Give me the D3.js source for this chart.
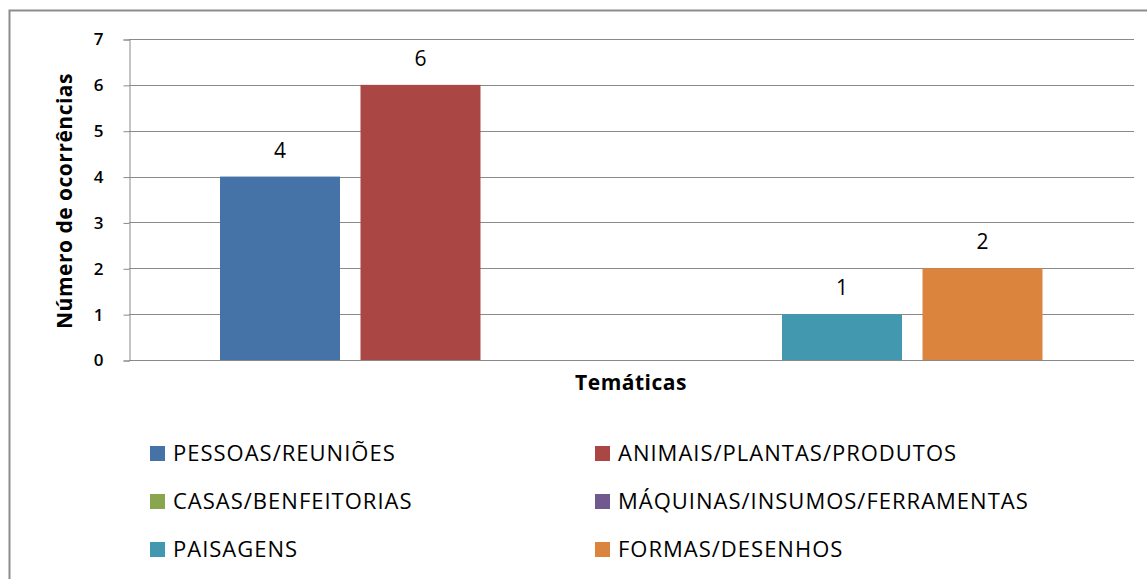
<!DOCTYPE html>
<html>
<head>
<meta charset="utf-8">
<script src="https://cdn.jsdelivr.net/npm/d3@7"></script>
<style>
  body { margin: 0; background: #fff; }
  svg { display: block; font-family: "Open Sans", Lato, sans-serif; }
</style>
</head>
<body>
<div id="chart"></div>
<script>
var width = 1147,
	height = 579;

// data
var category = 'Temáticas';
var series = ['PESSOAS/REUNIÕES', 'ANIMAIS/PLANTAS/PRODUTOS', 'CASAS/BENFEITORIAS',
	'MÁQUINAS/INSUMOS/FERRAMENTAS', 'PAISAGENS', 'FORMAS/DESENHOS'];
var values = [4, 6, 0, 0, 1, 2];
var colors = ['#4572a7', '#aa4643', '#89a54e', '#71588f', '#4198af', '#db843d'];
var yTicks = [0, 1, 2, 3, 4, 5, 6, 7];

var plot = { left: 129, right: 1134, top: 39, bottom: 360 };

var svg = d3.select('#chart').append('svg')
	.attr('width', width)
	.attr('height', height);

// outer frame (only top and left visible in the crop)
svg.append('path')
	.attr('d', 'M9.5,' + height + 'V10.5H' + width)
	.attr('fill', 'none')
	.attr('stroke', '#8c8c8c')
	.attr('stroke-width', 2);

var y = d3.scaleLinear()
	.domain([0, 7])
	.range([plot.bottom, plot.top]);

var x0 = d3.scaleBand()
	.domain([category])
	.range([plot.left, plot.right]);

// series inside the single category, ~91px gap on each side
var x1 = d3.scaleBand()
	.domain(series)
	.range([x0(category) + 91, x0(category) + x0.bandwidth() - 91.5])
	.paddingInner(0.146)
	.paddingOuter(0);

// grid lines
svg.append('g')
	.selectAll('line')
	.data(yTicks)
	.enter()
	.append('line')
	.attr('x1', plot.left)
	.attr('x2', plot.right)
	.attr('y1', d => Math.round(y(d)) + 0.5)
	.attr('y2', d => Math.round(y(d)) + 0.5)
	.attr('stroke', '#8a8a8a')
	.attr('stroke-width', 1);

// y axis
var yAxis = svg.append('g')
	.attr('transform', 'translate(' + (plot.left + 0.5) + ',0.5)')
	.call(d3.axisLeft(y).tickValues(yTicks).tickSize(6).tickPadding(20).tickFormat(d3.format('d')));

yAxis.select('.domain').attr('stroke', '#8a8a8a');
yAxis.selectAll('.tick line').attr('stroke', '#8a8a8a');
yAxis.selectAll('.tick text')
	.attr('fill', '#000')
	.style('font-family', '"Open Sans", sans-serif')
	.style('font-size', '17px')
	.style('font-weight', '600');

// bars
svg.append('g')
	.selectAll('rect')
	.data(series)
	.enter()
	.append('rect')
	.attr('x', d => x1(d))
	.attr('width', x1.bandwidth())
	.attr('y', (d, i) => y(values[i]))
	.attr('height', (d, i) => y(0) - y(values[i]))
	.attr('fill', (d, i) => colors[i]);

// data labels
svg.append('g')
	.selectAll('text')
	.data(series.filter((d, i) => values[i] > 0))
	.enter()
	.append('text')
	.attr('x', d => x1(d) + x1.bandwidth() / 2)
	.attr('y', d => y(values[series.indexOf(d)]) - 19)
	.attr('text-anchor', 'middle')
	.style('font-size', '21px')
	.text(d => values[series.indexOf(d)]);

// axis titles
svg.append('text')
	.attr('x', 631)
	.attr('y', 390)
	.attr('text-anchor', 'middle')
	.style('font-size', '21px')
	.style('font-weight', 'bold')
	.style('letter-spacing', '0.5px')
	.text(category);

svg.append('text')
	.attr('transform', 'translate(72,201) rotate(-90)')
	.attr('text-anchor', 'middle')
	.style('font-size', '21px')
	.style('font-weight', 'bold')
	.style('letter-spacing', '0.5px')
	.text('Número de ocorrências');

// legend, two columns
var legend = svg.append('g')
	.selectAll('g')
	.data(series)
	.enter()
	.append('g')
	.attr('transform', (d, i) => 'translate(' + (i % 2 ? 595 : 150) + ',' + (446 + Math.floor(i / 2) * 48) + ')');

legend.append('rect')
	.attr('width', 15)
	.attr('height', 15)
	.attr('fill', (d, i) => colors[i]);

legend.append('text')
	.attr('x', 23)
	.attr('y', 15)
	.style('font-size', '22px')
	.style('letter-spacing', '1px')
	.text(d => d);
</script>
</body>
</html>
